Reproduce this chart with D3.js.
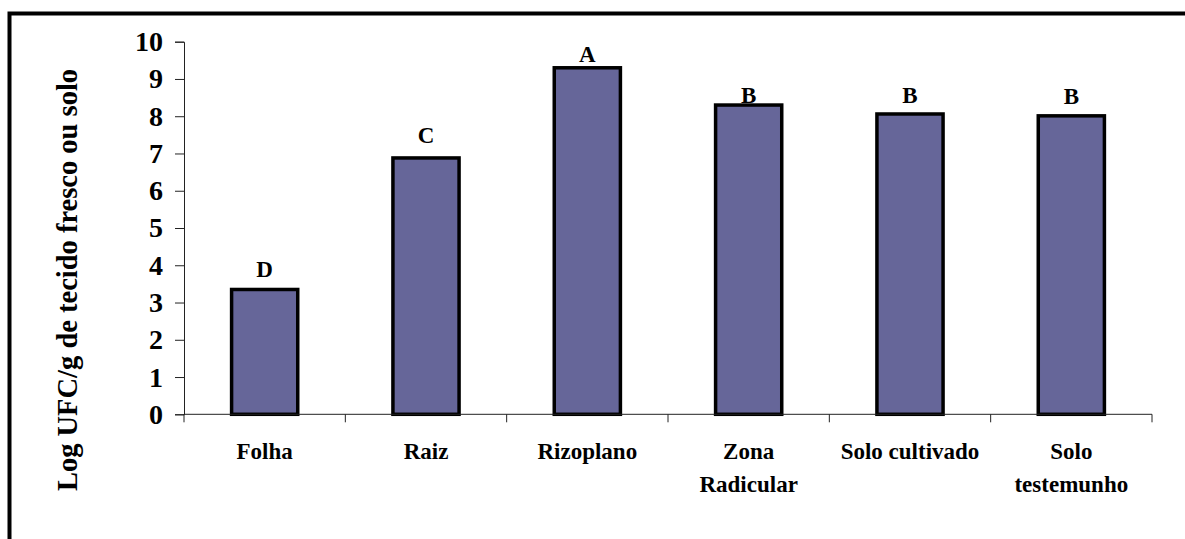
<!DOCTYPE html>
<html>
<head>
<meta charset="utf-8">
<script src="https://cdn.jsdelivr.net/npm/d3@7"></script>
<style>
  html, body { margin: 0; padding: 0; background: #fff; }
  svg { display: block; }
  text { font-family: "Liberation Serif", "Times New Roman", serif; font-weight: bold; fill: #000; }
</style>
</head>
<body>
<svg id="chart" width="1185" height="539"></svg>
<script>
// ---- data ----
const categories = ["Folha", "Raiz", "Rizoplano", "Zona\nRadicular", "Solo cultivado", "Solo\ntestemunho"];
const values = [3.35, 6.88, 9.30, 8.30, 8.06, 8.01];
const letters = ["D", "C", "A", "B", "B", "B"];
const letterLevels = [3.68, 7.29, 9.46, 8.36, 8.36, 8.33];
const yTicks = [0, 1, 2, 3, 4, 5, 6, 7, 8, 9, 10];
const yTitle = "Log UFC/g de tecido fresco ou solo";

// ---- layout ----
const svg = d3.select("#chart");
const plot = { left: 184, right: 1152, top: 41.7, bottom: 414.3 };

// outer frame (extends beyond the right and bottom edges)
svg.append("rect")
  .attr("x", 9.5).attr("y", 13.5)
  .attr("width", 1250).attr("height", 700)
  .attr("fill", "none").attr("stroke", "#000").attr("stroke-width", 4);

const x = d3.scaleBand().domain(categories).range([plot.left, plot.right]).paddingInner(0).paddingOuter(0);
const y = d3.scaleLinear().domain([0, 10]).range([plot.bottom, plot.top]);

const barW = x.bandwidth() * 0.41;

// bars
svg.append("g").selectAll("rect")
  .data(categories)
  .join("rect")
  .attr("x", d => x(d) + x.bandwidth() / 2 - barW / 2)
  .attr("y", (d, i) => y(values[i]))
  .attr("width", barW)
  .attr("height", (d, i) => y(0) - y(values[i]))
  .attr("fill", "#666699")
  .attr("stroke", "#000")
  .attr("stroke-width", 3.5);

// y axis
const yAxis = svg.append("g")
  .attr("transform", `translate(${plot.left},0)`)
  .call(d3.axisLeft(y).tickValues(yTicks).tickFormat(d3.format("d")).tickSize(9).tickPadding(12));
yAxis.select(".domain").attr("stroke", "#222").attr("stroke-width", 1);
yAxis.selectAll(".tick line").attr("stroke", "#222");
yAxis.selectAll(".tick text")
  .style("font-family", '"Liberation Serif", "Times New Roman", serif')
  .style("font-weight", "bold").style("font-size", "28px").attr("fill", "#000");

// x axis with ticks at category boundaries
const xAxisG = svg.append("g").attr("transform", `translate(0,${plot.bottom})`);
xAxisG.append("line")
  .attr("x1", plot.left).attr("x2", plot.right)
  .attr("stroke", "#222").attr("stroke-width", 1);
const boundaries = categories.map(c => x(c)).concat([plot.right]);
xAxisG.selectAll("line.tk")
  .data(boundaries)
  .join("line")
  .attr("class", "tk")
  .attr("x1", d => d).attr("x2", d => d)
  .attr("y1", 0).attr("y2", 8)
  .attr("stroke", "#222").attr("stroke-width", 1);

// category labels
const catG = svg.append("g");
categories.forEach(c => {
  const lines = c.split("\n");
  const t = catG.append("text")
    .attr("x", x(c) + x.bandwidth() / 2)
    .attr("y", 459)
    .attr("text-anchor", "middle")
    .style("font-size", "23px");
  lines.forEach((ln, j) => {
    t.append("tspan")
      .attr("x", x(c) + x.bandwidth() / 2)
      .attr("dy", j === 0 ? 0 : 33)
      .text(ln);
  });
});

// significance letters
svg.append("g").selectAll("text")
  .data(categories)
  .join("text")
  .attr("x", d => x(d) + x.bandwidth() / 2)
  .attr("y", (d, i) => y(letterLevels[i]))
  .attr("text-anchor", "middle")
  .style("font-size", "23px")
  .text((d, i) => letters[i]);

// y title
svg.append("text")
  .attr("transform", "translate(77,280) rotate(-90)")
  .attr("text-anchor", "middle")
  .style("font-size", "28.5px")
  .text(yTitle);
</script>
</body>
</html>
